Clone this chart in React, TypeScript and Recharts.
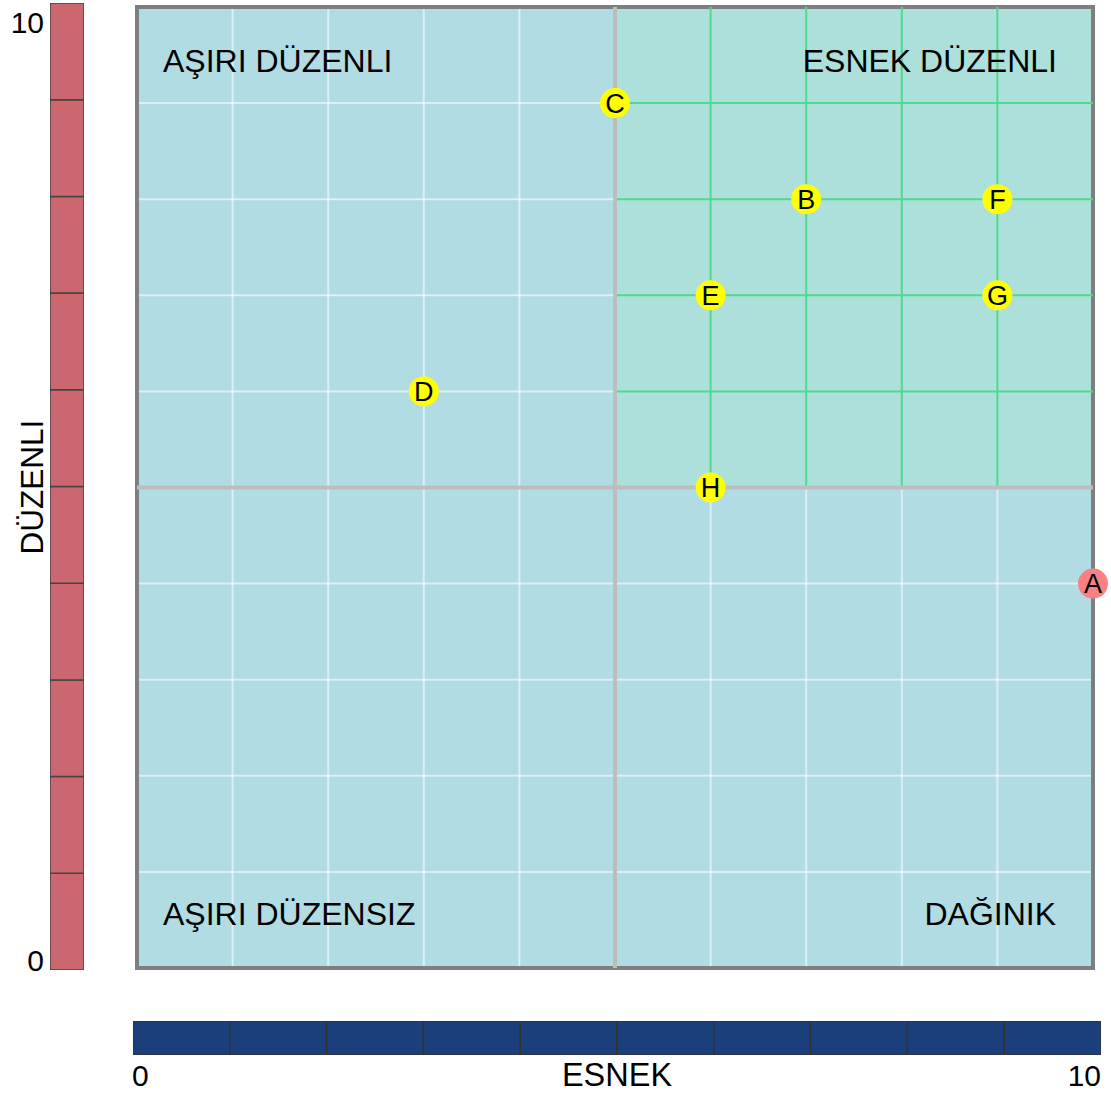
import React from 'react';
import {
  ScatterChart,
  Scatter,
  XAxis,
  YAxis,
  CartesianGrid,
  ReferenceArea,
  ReferenceLine,
  BarChart,
  Bar,
} from 'recharts';

// ---- data ----
const POINT_LABELS = ['A', 'B', 'C', 'D', 'E', 'F', 'G', 'H'];
const POINT_X = [10, 7, 5, 3, 6, 9, 9, 6];
const POINT_Y = [4, 8, 9, 6, 7, 8, 7, 5];
const HIGHLIGHT_LABELS = ['A'];

const GRID_VALUES = [1, 2, 3, 4, 5, 6, 7, 8, 9];
const GREEN_GRID_VALUES = [6, 7, 8, 9];
const AXIS_MIN = 0;
const AXIS_MAX = 10;
const MID = 5;
const SEGMENTS = [1, 1, 1, 1, 1, 1, 1, 1, 1, 1];

const QUADRANT_LABELS = ['AŞIRI DÜZENLI', 'ESNEK DÜZENLI', 'AŞIRI DÜZENSIZ', 'DAĞINIK'];
const X_AXIS_TITLE = 'ESNEK';
const Y_AXIS_TITLE = 'DÜZENLI';
const TICK_LABELS = ['0', '10'];

const points = POINT_LABELS.map((label, i) => ({
  label,
  x: POINT_X[i],
  y: POINT_Y[i],
  hot: HIGHLIGHT_LABELS.includes(label),
}));

const segRow: Record<string, any> = { k: 'bar' };
SEGMENTS.forEach((v, i) => {
  segRow['s' + i] = v;
});
const segData = [segRow];

const FONT = '"Liberation Sans", Arial, Helvetica, sans-serif';

const PointShape = (props: any) => {
  const { cx, cy, payload } = props;
  if (cx == null || cy == null) return null;
  return (
    <g>
      <circle cx={cx} cy={cy} r={15} fill={payload.hot ? '#F98181' : '#FFFF00'} />
      <text
        x={cx}
        y={cy + 9.5}
        textAnchor="middle"
        fontSize={27}
        fontFamily={FONT}
        fill="#000"
      >
        {payload.label}
      </text>
    </g>
  );
};

export default function App() {
  return (
    <div style={{ position: 'absolute', left: 0, top: 0, width: 1111, height: 1094, background: '#fff' }}>
      {/* main quadrant chart */}
      <div style={{ position: 'absolute', left: 0, top: 0 }}>
        <ScatterChart
          width={1111}
          height={1094}
          margin={{ top: 7, right: 18, bottom: 126, left: 137 }}
        >
          <CartesianGrid
            horizontalValues={GRID_VALUES}
            verticalValues={GRID_VALUES}
            stroke="rgba(255,255,255,0.55)"
            strokeWidth={2}
            fill="#B1DCE4"
            fillOpacity={1}
          />
          <XAxis type="number" dataKey="x" domain={[AXIS_MIN, AXIS_MAX]} hide />
          <YAxis type="number" dataKey="y" domain={[AXIS_MIN, AXIS_MAX]} hide />
          <ReferenceArea
            x1={MID}
            x2={AXIS_MAX}
            y1={MID}
            y2={AXIS_MAX}
            fill="#ADE0DA"
            fillOpacity={1}
            stroke="#4FD98E"
            strokeWidth={2}
          />
          <ReferenceArea
            x1={AXIS_MIN}
            x2={AXIS_MAX}
            y1={AXIS_MIN}
            y2={AXIS_MAX}
            fill="none"
            fillOpacity={0}
            stroke="#7E7E7E"
            strokeWidth={4}
          />
          {GREEN_GRID_VALUES.map((v) => (
            <ReferenceLine
              key={'gx' + v}
              segment={[
                { x: v, y: MID },
                { x: v, y: AXIS_MAX },
              ]}
              stroke="#4FD98E"
              strokeWidth={2}
            />
          ))}
          {GREEN_GRID_VALUES.map((v) => (
            <ReferenceLine
              key={'gy' + v}
              segment={[
                { x: MID, y: v },
                { x: AXIS_MAX, y: v },
              ]}
              stroke="#4FD98E"
              strokeWidth={2}
            />
          ))}
          <ReferenceLine x={MID} stroke="#BDBDBD" strokeWidth={4} />
          <ReferenceLine y={MID} stroke="#BDBDBD" strokeWidth={4} />
          <Scatter data={points} shape={PointShape} isAnimationActive={false} />
        </ScatterChart>
      </div>

      {/* left vertical scale bar */}
      <div style={{ position: 'absolute', left: 50, top: 3 }}>
        <BarChart width={34} height={967} data={segData} margin={{ top: 0, right: 0, bottom: 0, left: 0 }} barCategoryGap={0}>
          <XAxis dataKey="k" type="category" hide />
          <YAxis type="number" domain={[AXIS_MIN, AXIS_MAX]} hide />
          {SEGMENTS.map((_, i) => (
            <Bar
              key={'l' + i}
              dataKey={'s' + i}
              stackId="a"
              fill="#CD676F"
              stroke="#444"
              strokeWidth={1.5}
              isAnimationActive={false}
            />
          ))}
        </BarChart>
      </div>

      {/* bottom horizontal scale bar */}
      <div style={{ position: 'absolute', left: 133, top: 1021 }}>
        <BarChart
          width={968}
          height={34}
          data={segData}
          layout="vertical"
          margin={{ top: 0, right: 0, bottom: 0, left: 0 }}
          barCategoryGap={0}
        >
          <XAxis type="number" domain={[AXIS_MIN, AXIS_MAX]} hide />
          <YAxis dataKey="k" type="category" hide />
          {SEGMENTS.map((_, i) => (
            <Bar
              key={'b' + i}
              dataKey={'s' + i}
              stackId="a"
              fill="#1B3F7B"
              stroke="#333"
              strokeWidth={1.5}
              isAnimationActive={false}
            />
          ))}
        </BarChart>
      </div>

      {/* text overlay */}
      <svg
        width={1111}
        height={1094}
        style={{ position: 'absolute', left: 0, top: 0, pointerEvents: 'none' }}
        fontFamily={FONT}
      >
        <text x={163} y={72} fontSize={32} fill="#000">{QUADRANT_LABELS[0]}</text>
        <text x={1057} y={72} fontSize={32} fill="#000" textAnchor="end">{QUADRANT_LABELS[1]}</text>
        <text x={163} y={925} fontSize={32} fill="#000">{QUADRANT_LABELS[2]}</text>
        <text x={1056} y={925} fontSize={32} fill="#000" textAnchor="end">{QUADRANT_LABELS[3]}</text>

        <text x={44} y={33} fontSize={30} fill="#000" textAnchor="end">{TICK_LABELS[1]}</text>
        <text x={44} y={971} fontSize={30} fill="#000" textAnchor="end">{TICK_LABELS[0]}</text>
        <text
          x={43}
          y={487}
          fontSize={31.5}
          fill="#000"
          textAnchor="middle"
          transform="rotate(-90, 43, 487)"
        >
          {Y_AXIS_TITLE}
        </text>

        <text x={132} y={1086} fontSize={30} fill="#000">{TICK_LABELS[0]}</text>
        <text x={1101} y={1086} fontSize={30} fill="#000" textAnchor="end">{TICK_LABELS[1]}</text>
        <text x={617} y={1086} fontSize={32.5} fill="#000" textAnchor="middle">{X_AXIS_TITLE}</text>
      </svg>
    </div>
  );
}
